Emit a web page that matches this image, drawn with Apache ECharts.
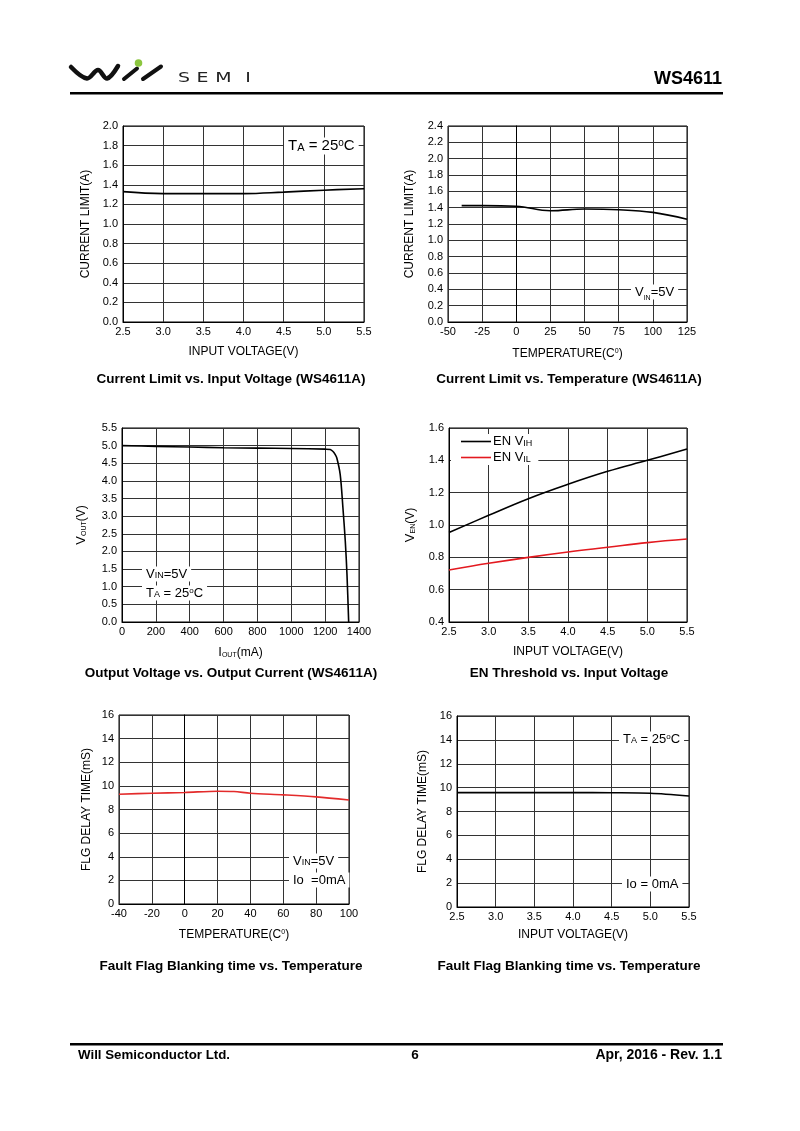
<!DOCTYPE html>
<html><head><meta charset="utf-8">
<script src="https://cdn.jsdelivr.net/npm/echarts@6/dist/echarts.min.js"></script>
<style>html,body{margin:0;padding:0;background:#fff}#c{width:800px;height:1131px}</style>
</head><body><div id="c"></div>
<script>
// ---------- data ----------
const clVinX = [2.5, 3.0, 3.5, 4.0, 4.5, 5.0, 5.5];
const clVinY = [1.33, 1.31, 1.31, 1.31, 1.325, 1.345, 1.36];

const clTempX = [-40, -25, 0, 25, 50, 75, 100, 125];
const clTempY = [1.425, 1.425, 1.417, 1.362, 1.383, 1.375, 1.342, 1.258];

const voutX = [0, 200, 400, 600, 800, 1000, 1200, 1230, 1245, 1258, 1269, 1289, 1305, 1319, 1329, 1339];
const voutY = [5.0, 4.98, 4.96, 4.94, 4.93, 4.92, 4.90, 4.89, 4.84, 4.76, 4.65, 4.18, 3.24, 2.29, 1.35, 0.0];

const enX = [2.5, 3.0, 3.5, 4.0, 4.5, 5.0, 5.5];
const enVih = [0.953, 1.06, 1.163, 1.252, 1.332, 1.40, 1.47];
const enVil = [0.722, 0.763, 0.80, 0.833, 0.862, 0.891, 0.913];

const flgTempX = [-40, -20, 0, 20, 30, 40, 60, 80, 100];
const flgTempY = [9.29, 9.38, 9.44, 9.55, 9.52, 9.38, 9.24, 9.07, 8.81];

const flgVinX = [2.5, 3.0, 3.5, 4.0, 4.5, 5.0, 5.5];
const flgVinY = [9.58, 9.58, 9.58, 9.58, 9.57, 9.53, 9.30];

// axis ranges [min, max, interval]
const ax1x = [2.5, 5.5, 0.5], ax1y = [0, 2.0, 0.2];
const ax2x = [-50, 125, 25], ax2y = [0, 2.4, 0.2];
const ax3x = [0, 1400, 200], ax3y = [0, 5.5, 0.5];
const ax4x = [2.5, 5.5, 0.5], ax4y = [0.4, 1.6, 0.2];
const ax5x = [-40, 100, 20], ax5y = [0, 16, 2];
const ax6x = [2.5, 5.5, 0.5], ax6y = [0, 16, 2];

const captions = [
  'Current Limit vs. Input Voltage (WS4611A)',
  'Current Limit vs. Temperature (WS4611A)',
  'Output Voltage vs. Output Current (WS4611A)',
  'EN Threshold vs. Input Voltage',
  'Fault Flag Blanking time vs. Temperature',
  'Fault Flag Blanking time vs. Temperature'
];

// ---------- helpers ----------
const FONT = '"Liberation Sans", Arial, sans-serif';
const rich = {
  n: { fontSize: 12, fontFamily: FONT, color: '#000' },
  b: { fontSize: 13, fontFamily: FONT, color: '#000' },
  s: { fontSize: 7, fontFamily: FONT, color: '#000', verticalAlign: 'bottom' },
  sup: { fontSize: 7, fontFamily: FONT, color: '#000', verticalAlign: 'top' }
};
const grids = [
  { left: 123, top: 126, width: 241, height: 196 },
  { left: 448, top: 126, width: 239, height: 196 },
  { left: 122, top: 428, width: 237, height: 194 },
  { left: 449, top: 428, width: 238, height: 194 },
  { left: 119, top: 715, width: 230, height: 189 },
  { left: 457, top: 716, width: 232, height: 191 }
].map(g => Object.assign({ show: true, borderColor: '#000', borderWidth: 1, containLabel: false }, g));

function mkAxis(kind, gi, r, name, gap, dec) {
  return {
    type: 'value', gridIndex: gi, min: r[0], max: r[1], interval: r[2],
    name: name, nameLocation: 'middle', nameGap: gap,
    nameTextStyle: { fontFamily: FONT, fontSize: 12, color: '#000', rich: rich },
    axisLine: { show: true, lineStyle: { color: '#000', width: 1 } },
    axisTick: { show: false },
    axisLabel: {
      fontFamily: FONT, fontSize: 11, color: '#000', margin: kind === 'x' ? 4 : 5,
      formatter: v => v.toFixed(dec)
    },
    splitLine: { show: true, lineStyle: { color: '#333', width: 1 } }
  };
}

const xAxes = [
  mkAxis('x', 0, ax1x, 'INPUT VOLTAGE(V)', 24, 1),
  mkAxis('x', 1, ax2x, '{n|TEMPERATURE(C}{sup|0}{n|)}', 26, 0),
  mkAxis('x', 2, ax3x, '{b|I}{s|OUT}{n|(mA)}', 24, 0),
  mkAxis('x', 3, ax4x, 'INPUT VOLTAGE(V)', 24, 1),
  mkAxis('x', 4, ax5x, '{n|TEMPERATURE(C}{sup|0}{n|)}', 25, 0),
  mkAxis('x', 5, ax6x, 'INPUT VOLTAGE(V)', 22, 1)
];
const yAxes = [
  mkAxis('y', 0, ax1y, 'CURRENT LIMIT(A)', 31, 1),
  mkAxis('y', 1, ax2y, 'CURRENT LIMIT(A)', 32, 1),
  mkAxis('y', 2, ax3y, '{b|V}{s|OUT}{n|(V)}', 34, 1),
  mkAxis('y', 3, ax4y, '{b|V}{s|EN}{n|(V)}', 32, 1),
  mkAxis('y', 4, ax5y, 'FLG DELAY TIME(mS)', 26, 0),
  mkAxis('y', 5, ax6y, 'FLG DELAY TIME(mS)', 28, 0)
];

function zip(xs, ys) { return xs.map((x, i) => [x, ys[i]]); }
function line(name, gi, xs, ys, color, smooth) {
  return {
    name: name, type: 'line', xAxisIndex: gi, yAxisIndex: gi,
    data: zip(xs, ys), symbol: 'none', smooth: smooth, silent: true,
    lineStyle: { color: color, width: 1.6 }, itemStyle: { color: color }
  };
}
const BLACK = '#000', RED = '#e3191f';
const series = [
  line('cl_vin', 0, clVinX, clVinY, BLACK, 0.4),
  line('cl_temp', 1, clTempX, clTempY, BLACK, 0.4),
  line('vout', 2, voutX, voutY, BLACK, 0.3),
  line('EN VIH', 3, enX, enVih, BLACK, 0.4),
  line('EN VIL', 3, enX, enVil, RED, 0.4),
  line('flg_temp', 4, flgTempX, flgTempY, '#e32b2b', 0.3),
  line('flg_vin', 5, flgVinX, flgVinY, BLACK, 0.3)
];

// ---------- page graphics ----------
function txt(x, y, text, opt) {
  const o = opt || {};
  const el = {
    type: 'text', x: x, y: y, z: 100, silent: true,
    style: Object.assign({
      text: text, fill: '#000', font: o.font || ('12px ' + FONT),
      align: o.align || 'left', textAlign: o.align || 'left',
      verticalAlign: 'middle', textVerticalAlign: 'middle'
    }, o.style || {})
  };
  if (o.scaleX) el.scaleX = o.scaleX;
  return el;
}
function mkRich(big) {
  return {
    t: { fontSize: big, fontFamily: FONT, color: '#000' },
    m: { fontSize: big - 4, fontFamily: FONT, color: '#000', verticalAlign: 'bottom' },
    sb: { fontSize: 7, fontFamily: FONT, color: '#000', verticalAlign: 'bottom', padding: [0, 0, -3, 0] },
    sp: { fontSize: big - 5, fontFamily: FONT, color: '#000', verticalAlign: 'top' }
  };
}
const annRich = mkRich(13);
const annRichBig = mkRich(15);
function ann(x, y, text, big) {
  return txt(x, y, text, { style: { rich: big ? annRichBig : annRich, backgroundColor: '#fff', padding: [1, 4, 1, 4] } });
}
const capY = [379, 379, 673, 673, 966, 966];
const capX = [231, 569, 231, 569, 231, 569];
const SEMI_FONT = '14px "DejaVu Sans", sans-serif';

const graphic = [
  // header logo
  { type: 'polyline', silent: true, shape: { points: [[71, 67], [87, 78.5], [98, 70], [107, 78.5], [118, 66]], smooth: 0.35 },
    style: { stroke: '#111', lineWidth: 4.5, fill: null, lineCap: 'round', lineJoin: 'round' } },
  { type: 'line', silent: true, shape: { x1: 124, y1: 79, x2: 137, y2: 68.5 }, style: { stroke: '#111', lineWidth: 4, lineCap: 'round' } },
  { type: 'line', silent: true, shape: { x1: 143, y1: 79, x2: 161, y2: 66.5 }, style: { stroke: '#111', lineWidth: 4, lineCap: 'round' } },
  { type: 'circle', silent: true, shape: { cx: 138.5, cy: 63, r: 3.8 }, style: { fill: '#8cc63f' } },
  txt(184, 78.5, 'S', { align: 'center', font: SEMI_FONT, scaleX: 1.35, style: { fill: '#222' } }),
  txt(202.5, 78.5, 'E', { align: 'center', font: SEMI_FONT, scaleX: 1.35, style: { fill: '#222' } }),
  txt(223.5, 78.5, 'M', { align: 'center', font: SEMI_FONT, scaleX: 1.35, style: { fill: '#222' } }),
  txt(248, 78.5, 'I', { align: 'center', font: SEMI_FONT, scaleX: 1.35, style: { fill: '#222' } }),
  txt(722, 79, 'WS4611', { align: 'right', font: 'bold 18px ' + FONT }),
  { type: 'rect', silent: true, shape: { x: 70, y: 92, width: 653, height: 2.5 }, style: { fill: '#000' } },
  // footer
  { type: 'rect', silent: true, shape: { x: 70, y: 1043, width: 653, height: 2.5 }, style: { fill: '#000' } },
  txt(78, 1055, 'Will Semiconductor Ltd.', { font: 'bold 13.3px ' + FONT }),
  txt(415, 1055, '6', { align: 'center', font: 'bold 13.5px ' + FONT }),
  txt(722, 1055, 'Apr, 2016 - Rev. 1.1', { align: 'right', font: 'bold 14px ' + FONT }),
  // chart annotations
  ann(284, 146, '{t|T}{m|A}{t| = 25}{sp|o}{t|C}', true),
  ann(631, 292, '{t|V}{sb|IN}{t|=5V}'),
  ann(142, 574, '{t|V}{m|IN}{t|=5V}'),
  ann(142, 593, '{t|T}{m|A}{t| = 25}{sp|o}{t|C}'),
  ann(289, 861, '{t|V}{m|IN}{t|=5V}'),
  ann(289, 880, '{t|Io  =0mA}'),
  ann(619, 739, '{t|T}{m|A}{t| = 25}{sp|o}{t|C}'),
  ann(622, 884, '{t|Io = 0mA}')
].concat(captions.map((c, i) => txt(capX[i], capY[i], c, { align: 'center', font: 'bold 13.5px ' + FONT })));

const chart = echarts.init(document.getElementById('c'), null, { renderer: 'canvas' });
chart.setOption({
  animation: false,
  backgroundColor: '#fff',
  grid: grids,
  xAxis: xAxes,
  yAxis: yAxes,
  legend: {
    data: ['EN VIH', 'EN VIL'], orient: 'vertical', left: 451, top: 434,
    icon: 'rect', itemWidth: 30, itemHeight: 1.6, itemGap: 3, padding: [1, 6, 1, 10],
    backgroundColor: '#fff', selectedMode: false,
    formatter: n => n === 'EN VIH' ? '{t|EN V}{m|IH}' : '{t|EN V}{m|IL}',
    textStyle: { rich: annRich, fontFamily: FONT, fontSize: 13, color: '#000', padding: [0, 0, 0, -3] }
  },
  series: series,
  graphic: graphic
});
</script>
</body></html>
